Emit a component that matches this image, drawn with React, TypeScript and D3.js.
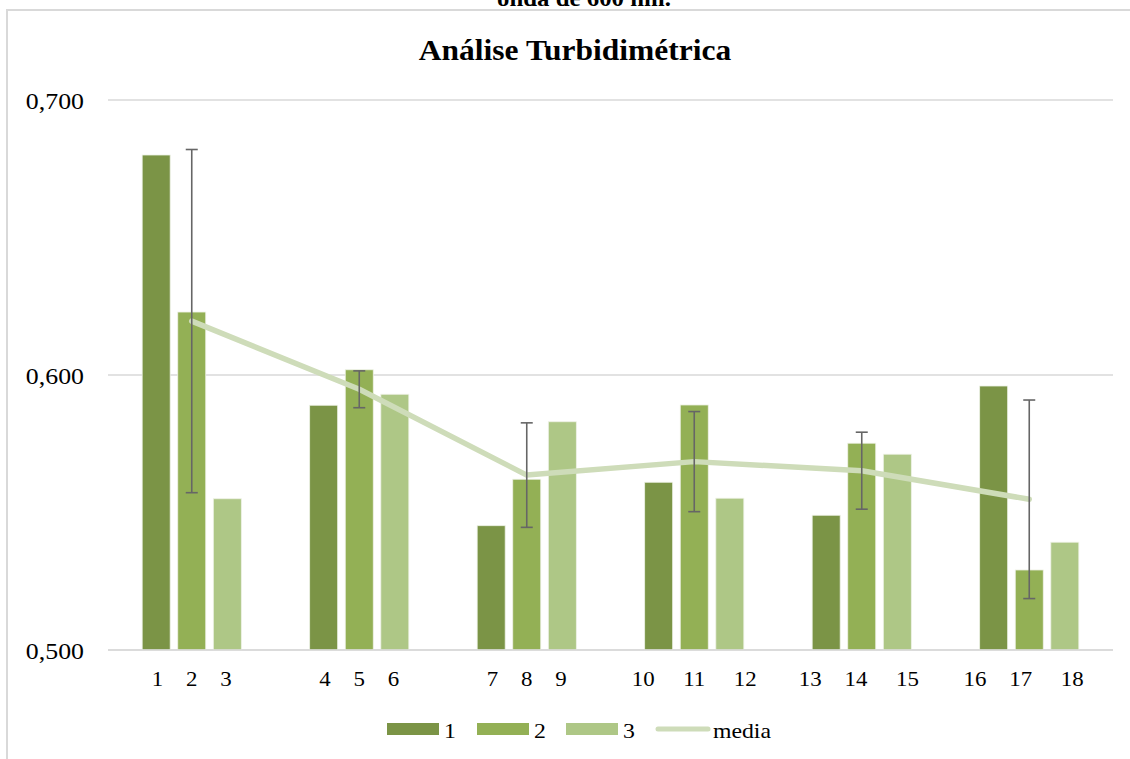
import React from "react";
import * as d3 from "d3";

const groupLabels = ["1    2    3", "4    5    6", "7    8    9", "10     11     12", "13    14     15 ", "16    17     18  "];
const seriesNames = ["1", "2", "3"];
const series1 = [0.68, 0.589, 0.5452, 0.561, 0.549, 0.596];
const series2 = [0.6229, 0.6019, 0.5621, 0.5891, 0.5752, 0.5291];
const series3 = [0.555, 0.593, 0.583, 0.5552, 0.5712, 0.5392];
const media = [0.6196, 0.5948, 0.5636, 0.5685, 0.5652, 0.5548];
const mediaErr = [0.0624, 0.0067, 0.019, 0.0182, 0.014, 0.0361];
const yTicks = [0.5, 0.6, 0.7];
const colors = ["#7b9446", "#93b055", "#aec786"];
const lineColor = "#cedcb9";

const W = 1130;
const H = 759;
const FONT = "'Liberation Serif', 'Times New Roman', serif";

export default function App() {
  const x0 = d3.scaleBand<number>().domain(d3.range(groupLabels.length)).range([108, 1113]).paddingInner(0.408).paddingOuter(0.204);
  const x1 = d3.scaleBand<number>().domain([0, 1, 2]).range([0, x0.bandwidth()]).paddingInner(0.213);
  const y = d3.scaleLinear().domain([0.5, 0.7]).range([650, 100]);
  const allSeries = [series1, series2, series3];
  const fmt = (v: number) => v.toFixed(3).replace(".", ",");
  const mid = (i: number) => (x0(i) as number) + (x1(1) as number) + x1.bandwidth() / 2;
  const lineGen = d3.line<number>().x((_, i) => mid(i)).y((d) => y(d));

  const legendItems = [
    { type: "rect", label: seriesNames[0], color: colors[0], x: 387 },
    { type: "rect", label: seriesNames[1], color: colors[1], x: 477 },
    { type: "rect", label: seriesNames[2], color: colors[2], x: 566 },
    { type: "line", label: "media", color: lineColor, x: 656 },
  ];

  return (
    <div style={{ position: "absolute", left: 0, top: 0, width: W, height: H, overflow: "hidden" }}>
      <svg width={W} height={H} style={{ display: "block", background: "#fff" }} fontFamily={FONT}>
        <text transform={`translate(584,6) scale(1.08,1)`} textAnchor="middle" fontSize={23} fontWeight="bold" fill="#000">
          onda de 600 nm.
        </text>
        <rect x={7} y={10} width={1140} height={800} fill="#fff" stroke="#d9d9d9" strokeWidth={2} />
        <text transform={`translate(575,60) scale(1.05,1)`} textAnchor="middle" fontSize={30} fontWeight="bold" fill="#000">
          Análise Turbidimétrica
        </text>
        {yTicks.map((t) => (
          <g key={t}>
            <line x1={108} x2={1113} y1={y(t)} y2={y(t)} stroke="#d9d9d9" strokeWidth={1.5} />
            <text transform={`translate(84,${y(t) + 8.5}) scale(1.1,1)`} textAnchor="end" fontSize={23.5} fill="#000">
              {fmt(t)}
            </text>
          </g>
        ))}
        {allSeries.map((s, si) =>
          s.map((v, gi) => (
            <rect
              key={`${si}-${gi}`}
              x={(x0(gi) as number) + (x1(si) as number)}
              y={y(v)}
              width={x1.bandwidth()}
              height={y(0.5) - y(v)}
              fill={colors[si]}
              stroke="#eef2e6"
              strokeWidth={0.8}
            />
          ))
        )}
        <line x1={108} x2={1113} y1={650} y2={650} stroke="#d9d9d9" strokeWidth={1.5} />
        <path d={lineGen(media) || ""} fill="none" stroke={lineColor} strokeWidth={5.5} strokeLinecap="round" strokeLinejoin="round" />
        {media.map((m, i) => {
          const cx = mid(i);
          const top = y(m + mediaErr[i]);
          const bot = y(m - mediaErr[i]);
          return (
            <g key={i} stroke="#666" strokeWidth={1.6}>
              <line x1={cx} x2={cx} y1={top} y2={bot} />
              <line x1={cx - 6} x2={cx + 6} y1={top} y2={top} />
              <line x1={cx - 6} x2={cx + 6} y1={bot} y2={bot} />
            </g>
          );
        })}
        {groupLabels.map((l, i) => (
          <text
            key={i}
            transform={`translate(${(x0(i) as number) + x0.bandwidth() / 2},685.5) scale(1.04,1)`}
            textAnchor="middle"
            fontSize={22}
            fill="#000"
            style={{ whiteSpace: "pre" }}
          >
            {l}
          </text>
        ))}
        {legendItems.map((it) => (
          <g key={it.label}>
            {it.type === "rect" ? (
              <rect x={it.x} y={723} width={52} height={12} fill={it.color} />
            ) : (
              <line x1={it.x + 2} x2={it.x + 52} y1={729} y2={729} stroke={it.color} strokeWidth={5} strokeLinecap="round" />
            )}
            <text transform={`translate(${it.x + 57},737.5) scale(1.08,1)`} fontSize={22} fill="#000">
              {it.label}
            </text>
          </g>
        ))}
      </svg>
    </div>
  );
}
